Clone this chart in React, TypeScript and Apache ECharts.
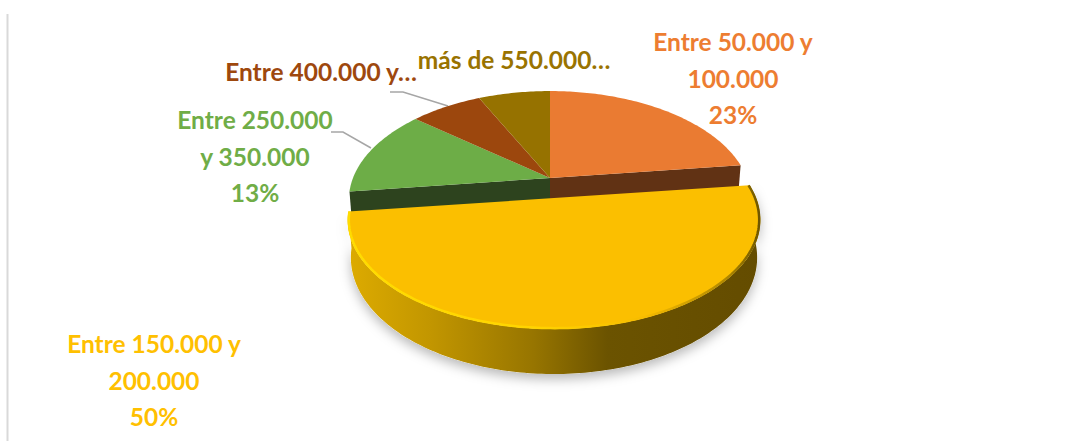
import React, { useEffect, useRef } from "react";
import * as echarts from "echarts";

const categories = [
  "Entre 50.000 y 100.000",
  "Entre 150.000 y 200.000",
  "Entre 250.000 y 350.000",
  "Entre 400.000 y 500.000",
  "más de 550.000",
];
const shares = [23, 50, 13, 7, 7];
const topColors = ["#EA7B32", "#FBBF00", "#6DAD47", "#9C470D", "#967200"];
const cutColors = ["#613214", "", "#2D431E", "", ""];
const explodedIndex = 1;

const labelTexts = [
  "Entre 50.000 y\n100.000\n23%",
  "Entre 150.000 y\n200.000\n50%",
  "Entre 250.000\ny 350.000\n13%",
  "Entre 400.000 y…",
  "más de 550.000…",
];
const labelColors = ["#ED7D31", "#FFC000", "#70AD47", "#9E480E", "#997300"];
const labelAnchors = [
  [733, 78],
  [154, 380],
  [255, 156],
  [321, 71],
  [514, 59],
];
const leaderLines = [
  [[331, 132], [343, 132], [371, 148]],
  [[390, 92], [403, 92], [448, 106]],
];

const CX = 550;
const CY = 178;
const RX_FRONT = 202;
const RX_BACK = 197;
const RY = 104.5;
const PERSPECTIVE = 0.202;
const DEPTH = 36;
const EXPLODE = [4, 20];
const FONT = "Lato";

type P = [number, number];

function project(deg: number, r: number, off: number[]): P {
  const a = (deg * Math.PI) / 180;
  const u = r * Math.sin(a);
  const v = -r * Math.cos(a);
  const w = 1 - PERSPECTIVE * v;
  const rx = off[1] > 0 ? RX_FRONT : RX_BACK;
  return [CX + (rx * u) / w + off[0], CY + (RY * v) / w + off[1]];
}

function lower(deg: number, r: number, off: number[]): P {
  const a = (deg * Math.PI) / 180;
  const v = -r * Math.cos(a);
  const w = 1 - PERSPECTIVE * v;
  const p = project(deg, r, off);
  return [CX + off[0] + (p[0] - CX - off[0]) * 0.985, p[1] + DEPTH / w];
}

function arc(a0: number, a1: number, fn: (d: number) => P): P[] {
  const pts: P[] = [];
  const n = Math.max(2, Math.ceil(a1 - a0));
  for (let i = 0; i <= n; i++) pts.push(fn(a0 + ((a1 - a0) * i) / n));
  return pts;
}

const total = shares.reduce((s, v) => s + v, 0);

function renderItem(params: any) {
  const i = params.dataIndex;
  const before = shares.slice(0, i).reduce((s, v) => s + v, 0);
  const a0 = (before / total) * 360;
  const a1 = ((before + shares[i]) / total) * 360;
  const children: any[] = [];
  const exploded = i === explodedIndex;
  const off = exploded ? EXPLODE : [0, 0];
  const top = [project(0, 0, off), ...arc(a0, a1, (d) => project(d, 1, off))];

  if (exploded) {
    const outline = [
      ...arc(a0, a1, (d) => project(d, 1, off)),
      ...arc(a0, a1, (d) => lower(d, 1, off)).reverse(),
    ];
    children.push({
      type: "polygon",
      z2: 0,
      shape: { points: outline },
      style: {
        fill: "#ffffff",
        shadowColor: "rgba(0,0,0,0.28)",
        shadowBlur: 12,
        shadowOffsetY: 5,
      },
    });
    children.push({
      type: "polygon",
      z2: 3,
      shape: { points: outline },
      style: {
        fill: {
          type: "linear",
          x: 0,
          y: 0,
          x2: 1,
          y2: 0,
          colorStops: [
            { offset: 0, color: "#DDAB00" },
            { offset: 0.2, color: "#C29600" },
            { offset: 0.45, color: "#977500" },
            { offset: 0.63, color: "#6B5300" },
            { offset: 1, color: "#644C00" },
          ],
        },
      },
    });
    children.push({
      type: "polygon",
      z2: 4,
      shape: { points: top },
      style: { fill: topColors[i] },
    });
    children.push({
      type: "polyline",
      z2: 5,
      shape: { points: arc(a0, a1, (d) => project(d, 0.995, off)) },
      style: {
        fill: "none",
        lineWidth: 2.5,
        stroke: {
          type: "linear",
          x: 0,
          y: 0,
          x2: 1,
          y2: 0,
          colorStops: [
            { offset: 0, color: "#FFDC00" },
            { offset: 0.45, color: "#FFD400" },
            { offset: 0.72, color: "#F7BC00" },
            { offset: 0.92, color: "#B08800" },
            { offset: 1, color: "#6E5600" },
          ],
        },
      },
    });
  } else {
    if (cutColors[i]) {
      const edge = i < explodedIndex ? a1 : a0;
      children.push({
        type: "polygon",
        z2: 1,
        shape: {
          points: [
            project(edge, 0, off),
            project(edge, 1, off),
            lower(edge, 1, off),
            lower(edge, 0, off),
          ],
        },
        style: { fill: cutColors[i] },
      });
    }
    children.push({
      type: "polygon",
      z2: 2,
      shape: { points: top },
      style: { fill: topColors[i] },
    });
  }
  return { type: "group", children };
}

export default function App() {
  const ref = useRef<HTMLDivElement>(null);
  useEffect(() => {
    const chart = echarts.init(ref.current!, null, { renderer: "svg" });
    chart.setOption({
      animation: false,
      backgroundColor: "#ffffff",
      graphic: [
        {
          type: "line",
          z: 1,
          shape: { x1: 7.5, y1: 14, x2: 7.5, y2: 441 },
          style: { stroke: "#D9D9D9", lineWidth: 2 },
        },
        ...leaderLines.map((pts) => ({
          type: "polyline",
          z: 1,
          shape: { points: pts },
          style: { fill: "none", stroke: "#A6A6A6", lineWidth: 1.5 },
        })),
        ...labelTexts.map((text, i) => ({
          type: "text",
          z: 10,
          x: labelAnchors[i][0],
          y: labelAnchors[i][1],
          style: {
            text,
            fill: labelColors[i],
            font: `bold 24.5px ${FONT}`,
            lineHeight: 36.5,
            align: "center",
            verticalAlign: "middle",
          },
        })),
      ],
      series: [
        {
          type: "custom",
          coordinateSystem: "none",
          silent: true,
          renderItem,
          data: categories.map((name, i) => ({ name, value: shares[i] })),
        },
      ],
    });
    return () => chart.dispose();
  }, []);
  return (
    <div
      ref={ref}
      style={{ position: "fixed", left: 0, top: 0, width: 1077, height: 441 }}
    />
  );
}
